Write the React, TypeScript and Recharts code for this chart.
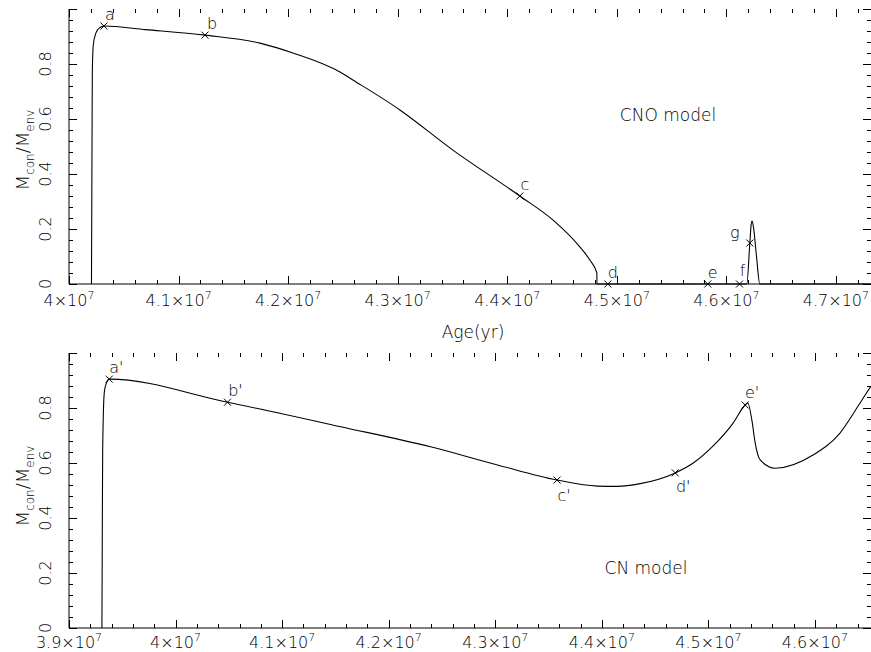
import React from 'react';
import { ComposedChart, Line, Scatter, XAxis, YAxis } from 'recharts';

const FONT = '"DejaVu Sans", Verdana, sans-serif';

// CNO model (upper panel): age in yr, M_con/M_env
const CNO_AGE = [
  4.0205e7, 4.021e7, 4.0213e7, 4.0222e7, 4.0246e7, 4.028e7, 4.0319e7, 4.07e7, 4.1241e7, 4.1743e7,
  4.2044e7, 4.2473e7, 4.2591e7, 4.302e7, 4.3504e7, 4.4115e7, 4.4416e7, 4.4662e7, 4.4754e7, 4.4818e7,
  4.48185e7, 4.6186e7, 4.6214e7, 4.6226e7, 4.6235e7, 4.6248e7, 4.6275e7, 4.6305e7, 4.732e7,
];
const CNO_FRAC = [
  0, 0.5, 0.778, 0.87, 0.913, 0.932, 0.938, 0.925, 0.905, 0.876,
  0.84, 0.771, 0.742, 0.633, 0.487, 0.32, 0.233, 0.135, 0.087, 0.04,
  0, 0, 0.149, 0.215, 0.229, 0.205, 0.1, 0, 0,
];
const CNO_MARK_NAMES = ['a', 'b', 'c', 'd', 'e', 'f', 'g'];
const CNO_MARK_AGE = [4.0319e7, 4.1241e7, 4.4115e7, 4.4918e7, 4.583e7, 4.612e7, 4.6214e7];
const CNO_MARK_FRAC = [0.938, 0.905, 0.32, 0, 0, 0, 0.149];

// CN model (lower panel)
const CN_AGE = [
  3.9309e7, 3.9313e7, 3.9316e7, 3.9331e7, 3.935e7, 3.9378e7, 4.0487e7, 4.1549e7, 4.2393e7, 4.3021e7,
  4.358e7, 4.3958e7, 4.4145e7, 4.436e7, 4.4689e7, 4.4858e7, 4.5045e7, 4.5232e7, 4.5345e7, 4.537e7,
  4.5408e7, 4.5439e7, 4.5486e7, 4.5626e7, 4.5982e7, 4.6235e7, 4.6423e7, 4.6526e7,
];
const CN_FRAC = [
  0, 0.4, 0.647, 0.856, 0.89, 0.905, 0.821, 0.732, 0.659, 0.593,
  0.538, 0.516, 0.515, 0.525, 0.564, 0.6, 0.662, 0.745, 0.811, 0.818,
  0.756, 0.673, 0.611, 0.581, 0.629, 0.709, 0.818, 0.88,
];
const CN_MARK_NAMES = ["a'", "b'", "c'", "d'", "e'"];
const CN_MARK_AGE = [3.9378e7, 4.0487e7, 4.358e7, 4.4689e7, 4.5345e7];
const CN_MARK_FRAC = [0.905, 0.821, 0.538, 0.564, 0.811];

// axes
const CNO_X_MAJOR = [4.0e7, 4.1e7, 4.2e7, 4.3e7, 4.4e7, 4.5e7, 4.6e7, 4.7e7];
const CNO_X_LABELS = ['4', '4.1', '4.2', '4.3', '4.4', '4.5', '4.6', '4.7'];
const CNO_X_END = 4.732e7;
const CN_X_MAJOR = [3.9e7, 4.0e7, 4.1e7, 4.2e7, 4.3e7, 4.4e7, 4.5e7, 4.6e7];
const CN_X_LABELS = ['3.9', '4', '4.1', '4.2', '4.3', '4.4', '4.5', '4.6'];
const CN_X_END = 4.6526e7;
const Y_MAJOR = [0, 0.2, 0.4, 0.6, 0.8, 1];
const Y_LABELS = ['0', '0.2', '0.4', '0.6', '0.8', ''];

// label offsets around the crosses
const LABEL_OFFSETS: Record<string, [number, number]> = {
  a: [6, -12], b: [7, -12], c: [5, -12], d: [5, -12], e: [5, -12], f: [3, -14], g: [-15, -11],
  "a'": [7, -12], "b'": [8, -12], "c'": [7, 15], "d'": [8, 14], "e'": [7, -12],
};

const CHART_W = 871;
const LEFT_W = 69;
const TICK_COLOR = '#000';

const zip = (xs: number[], ys: number[]) => xs.map((x, i) => ({ x, y: ys[i] }));
const marks = (names: string[], xs: number[], ys: number[]) =>
  names.map((name, i) => ({ name, x: xs[i], y: ys[i] }));

// major ticks split into 5 minor steps
const withMinor = (major: number[], end: number) => {
  const step = (major[1] - major[0]) / 5;
  const out: number[] = [];
  for (let k = 0; major[0] + k * step <= end + 1e-6; k++) out.push(major[0] + k * step);
  return out;
};

const isMajor = (v: number, start: number, step: number) => {
  const r = (v - start) / step;
  return Math.abs(r - Math.round(r)) < 1e-6;
};

// bottom axis tick: inward mark on bottom and top frame, label below
const makeXTick = (major: number[], labels: string[], labelDy: number, plotH: number) => (props: any) => {
  const x = Number(props.x);
  const y = Number(props.y);
  const value = Number(props.payload.value);
  const step = major[1] - major[0];
  const maj = isMajor(value, major[0], step);
  const idx = Math.round((value - major[0]) / step);
  const px = Math.round(x);
  const len = maj ? 8 : 4;
  const yTop = y - plotH;
  return (
    <g>
      <rect x={px} y={y - len} width={1} height={len} fill={TICK_COLOR} />
      <rect x={px} y={yTop} width={1} height={len} fill={TICK_COLOR} />
      {maj && labels[idx] && (
        <text x={x} y={y + labelDy} textAnchor="middle" fontSize={16} fontFamily={FONT} fontWeight={200} fill="#000">
          {labels[idx]}×10<tspan dy={-7} fontSize={11}>7</tspan>
        </text>
      )}
    </g>
  );
};

// left axis tick: inward mark on left and right frame, rotated label
const makeYTick = (plotW: number) => (props: any) => {
  const x = Number(props.x);
  const y = Number(props.y);
  const value = Number(props.payload.value);
  const maj = isMajor(value, 0, 0.2);
  const idx = Math.round(value / 0.2);
  const py = Math.round(y);
  const len = maj ? 8 : 4;
  const xRight = x + plotW;
  return (
    <g>
      <rect x={x} y={py} width={len} height={1} fill={TICK_COLOR} />
      <rect x={xRight - len} y={py} width={len} height={1} fill={TICK_COLOR} />
      {maj && Y_LABELS[idx] && (
        <text
          x={x - 24}
          y={y}
          transform={`rotate(-90 ${x - 24} ${y})`}
          textAnchor="middle"
          dominantBaseline="central"
          fontSize={16}
          fontFamily={FONT}
          fontWeight={200}
          fill="#000"
        >
          {Y_LABELS[idx]}
        </text>
      )}
    </g>
  );
};

const Cross = (props: any) => {
  const { cx, cy, payload } = props;
  const [dx, dy] = LABEL_OFFSETS[payload.name] || [5, -12];
  const s = 3.5;
  return (
    <g>
      <path
        d={`M${cx - s},${cy - s}L${cx + s},${cy + s}M${cx - s},${cy + s}L${cx + s},${cy - s}`}
        stroke="#000"
        strokeWidth={1}
        fill="none"
      />
      <text
        x={cx + dx}
        y={cy + dy}
        textAnchor="middle"
        dominantBaseline="central"
        fontSize={16}
        fontFamily={FONT}
        fontWeight={200}
        fill="#000"
      >
        {payload.name}
      </text>
    </g>
  );
};

const Y_TICKS = withMinor(Y_MAJOR, 1);

function Panel(props: {
  height: number;
  top: number;
  axisHeight: number;
  labelDy: number;
  curve: { x: number; y: number }[];
  points: { name: string; x: number; y: number }[];
  major: number[];
  labels: string[];
  end: number;
}) {
  const { height, top, axisHeight, labelDy, curve, points, major, labels, end } = props;
  const xTicks = withMinor(major, end);
  const plotH = height - top - axisHeight;
  const plotW = CHART_W - LEFT_W;
  return (
    <ComposedChart width={CHART_W} height={height} margin={{ top, right: 0, bottom: 0, left: 0 }}>
      <XAxis
        dataKey="x"
        type="number"
        domain={[major[0], end]}
        ticks={xTicks}
        interval={0}
        height={axisHeight}
        tickSize={0}
        tickMargin={0}
        tickLine={false}
        axisLine={{ stroke: '#000' }}
        tick={makeXTick(major, labels, labelDy, plotH)}
      />
      <XAxis
        xAxisId="t"
        orientation="top"
        type="number"
        domain={[major[0], end]}
        height={0}
        tick={false}
        tickLine={false}
        axisLine={{ stroke: '#000' }}
      />
      <YAxis
        dataKey="y"
        type="number"
        domain={[0, 1]}
        ticks={Y_TICKS}
        interval={0}
        width={LEFT_W}
        tickSize={0}
        tickMargin={0}
        tickLine={false}
        axisLine={{ stroke: '#000' }}
        tick={makeYTick(plotW)}
      />
      <YAxis
        yAxisId="r"
        orientation="right"
        type="number"
        domain={[0, 1]}
        width={0}
        tick={false}
        tickLine={false}
        axisLine={{ stroke: '#000' }}
      />
      <Line
        data={curve}
        dataKey="y"
        type="monotone"
        stroke="#000"
        strokeWidth={1.1}
        dot={false}
        activeDot={false}
        isAnimationActive={false}
      />
      <Scatter data={points} dataKey="y" shape={<Cross />} isAnimationActive={false} />
    </ComposedChart>
  );
}

const textStyle: React.CSSProperties = {
  position: 'absolute',
  fontFamily: FONT,
  fontWeight: 200,
  color: '#000',
  whiteSpace: 'nowrap',
  lineHeight: 1,
  transform: 'translate(-50%, -50%)',
};

const YLabel = ({ cx, cy }: { cx: number; cy: number }) => (
  <div style={{ ...textStyle, left: cx, top: cy, fontSize: 18, transform: 'translate(-50%, -50%) rotate(-90deg)' }}>
    M<sub style={{ fontSize: 12 }}>con</sub>/M<sub style={{ fontSize: 12 }}>env</sub>
  </div>
);

export default function App() {
  return (
    <div style={{ position: 'absolute', left: 0, top: 0, width: 871, height: 652, background: '#fff', overflow: 'hidden' }}>
      <div style={{ position: 'absolute', left: 0, top: 0 }}>
        <Panel
          height={340}
          top={9}
          axisHeight={56}
          labelDy={22}
          curve={zip(CNO_AGE, CNO_FRAC)}
          points={marks(CNO_MARK_NAMES, CNO_MARK_AGE, CNO_MARK_FRAC)}
          major={CNO_X_MAJOR}
          labels={CNO_X_LABELS}
          end={CNO_X_END}
        />
      </div>
      <div style={{ position: 'absolute', left: 0, top: 340 }}>
        <Panel
          height={312}
          top={13}
          axisHeight={24}
          labelDy={20}
          curve={zip(CN_AGE, CN_FRAC)}
          points={marks(CN_MARK_NAMES, CN_MARK_AGE, CN_MARK_FRAC)}
          major={CN_X_MAJOR}
          labels={CN_X_LABELS}
          end={CN_X_END}
        />
      </div>
      <YLabel cx={25} cy={150} />
      <YLabel cx={25} cy={486} />
      <div style={{ ...textStyle, left: 473, top: 332, fontSize: 17 }}>Age(yr)</div>
      <div style={{ ...textStyle, left: 668, top: 115, fontSize: 17 }}>CNO model</div>
      <div style={{ ...textStyle, left: 646, top: 568, fontSize: 17 }}>CN model</div>
    </div>
  );
}
